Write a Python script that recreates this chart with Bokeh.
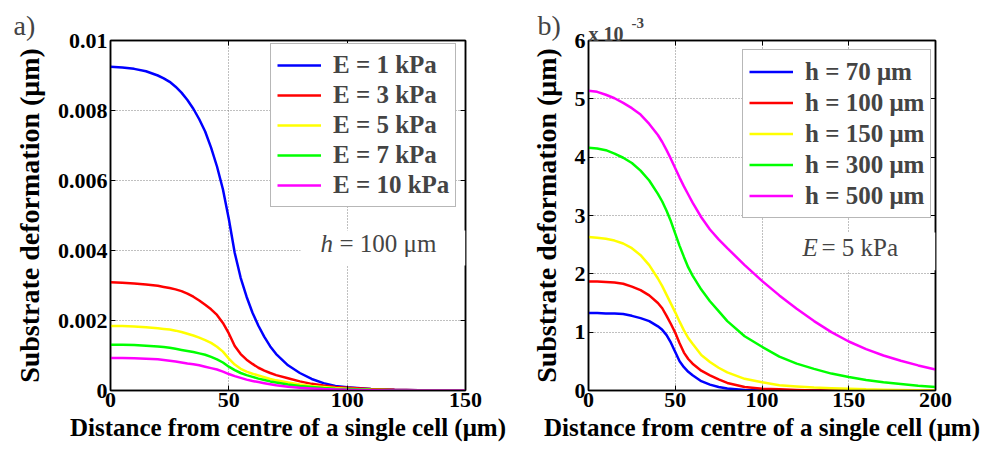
from bokeh.plotting import figure
from bokeh.models import (Legend, LegendItem, Label, BoxAnnotation, FixedTicker,
                          LinearAxis, CustomJSTickFormatter, Range1d, Title)
from bokeh.layouts import row
from bokeh.embed import file_html
from bokeh.resources import INLINE

# ---------------- data: panel a (h = 100 um) ----------------
xa = [0, 5, 10, 15, 20, 22.5, 25, 27.5, 30, 32.5, 35, 37.5, 40, 42.5, 45, 47.5, 50,
      52.5, 55, 57.5, 60, 62.5, 65, 67.5, 70, 75, 80, 85, 90, 95, 100, 110, 120, 130,
      140, 150]
e1 = [0.00925, 0.00923, 0.00919, 0.00912, 0.00900, 0.00892, 0.00882, 0.00868, 0.00851,
      0.00830, 0.00805, 0.00775, 0.00740, 0.00694, 0.00640, 0.00575, 0.00490, 0.00393,
      0.00322, 0.00268, 0.00222, 0.00185, 0.00153, 0.00126, 0.00104, 0.00072, 0.00050,
      0.00033, 0.00021, 0.00013, 0.00009, 0.00004, 0.00002, 0.00001, 0.0, 0.0]
e3 = [0.00309, 0.00308, 0.00306, 0.00303, 0.00299, 0.00296, 0.00293, 0.00289, 0.00284,
      0.00277, 0.00268, 0.00257, 0.00245, 0.00232, 0.00216, 0.00193, 0.00163, 0.00127,
      0.00104, 0.00088, 0.00076, 0.00065, 0.00057, 0.00050, 0.00044, 0.00035, 0.00026,
      0.00019, 0.00014, 0.00010, 0.00008, 0.00004, 0.00002, 0.00001, 0.0, 0.0]
e5 = [0.00184, 0.00184, 0.00183, 0.00181, 0.00178, 0.00176, 0.00174, 0.00171, 0.00167,
      0.00162, 0.00157, 0.00151, 0.00144, 0.00136, 0.00125, 0.00111, 0.00091, 0.00074,
      0.00062, 0.00054, 0.00048, 0.00043, 0.00038, 0.00033, 0.00029, 0.00023, 0.00017,
      0.00013, 0.00010, 0.00007, 0.00005, 0.00002, 0.00001, 0.0, 0.0, 0.0]
e7 = [0.00131, 0.00131, 0.00130, 0.00128, 0.00126, 0.00124, 0.00122, 0.00119, 0.00116,
      0.00113, 0.00110, 0.00106, 0.00102, 0.00096, 0.00089, 0.00080, 0.00068, 0.00058,
      0.00050, 0.00044, 0.00039, 0.00034, 0.00030, 0.00026, 0.00023, 0.00017, 0.00013,
      0.00010, 0.00007, 0.00005, 0.00004, 0.00002, 0.00001, 0.0, 0.0, 0.0]
e10 = [0.00093, 0.00093, 0.00092, 0.00091, 0.00089, 0.00087, 0.00085, 0.00083, 0.00080,
       0.00077, 0.00075, 0.00072, 0.00068, 0.00064, 0.00060, 0.00054, 0.00047, 0.00041,
       0.00036, 0.00031, 0.00027, 0.00024, 0.00021, 0.00018, 0.00015, 0.00011, 0.00008,
       0.00006, 0.00004, 0.00003, 0.00002, 0.00001, 0.0, 0.0, 0.0, 0.0]
labels_a = ["E = 1 kPa", "E = 3 kPa", "E = 5 kPa", "E = 7 kPa", "E = 10 kPa"]
xticks_a = [0, 50, 100, 150]
yticks_a = [0, 0.002, 0.004, 0.006, 0.008, 0.01]

# ---------------- data: panel b (E = 5 kPa), values in 1e-3 um ----------------
xb = [0, 5, 10, 15, 20, 25, 30, 35, 40, 42.5, 45, 47.5, 50, 52.5, 55, 57.5, 60, 65, 70,
      75, 80, 90, 100, 110, 120, 130, 140, 150, 160, 170, 180, 190, 200]
h70 = [1.33, 1.33, 1.32, 1.32, 1.31, 1.28, 1.24, 1.19, 1.10, 1.04, 0.95, 0.82, 0.66,
       0.50, 0.40, 0.32, 0.26, 0.16, 0.10, 0.06, 0.035, 0.01, 0.0, 0.0, 0.0, 0.0, 0.0,
       0.0, 0.0, 0.0, 0.0, 0.0, 0.0]
h100 = [1.87, 1.87, 1.86, 1.85, 1.83, 1.78, 1.72, 1.63, 1.50, 1.41, 1.28, 1.14, 0.99,
        0.81, 0.65, 0.54, 0.46, 0.34, 0.26, 0.19, 0.13, 0.06, 0.03, 0.02, 0.01, 0.0, 0.0,
        0.0, 0.0, 0.0, 0.0, 0.0, 0.0]
h150 = [2.63, 2.62, 2.60, 2.57, 2.52, 2.44, 2.32, 2.15, 1.92, 1.79, 1.64, 1.49, 1.34,
        1.18, 1.03, 0.90, 0.80, 0.61, 0.49, 0.39, 0.31, 0.20, 0.14, 0.09, 0.07, 0.05, 0.04,
        0.03, 0.02, 0.015, 0.01, 0.005, 0.0]
h300 = [4.16, 4.15, 4.12, 4.06, 3.99, 3.90, 3.77, 3.60, 3.37, 3.24, 3.08, 2.90, 2.69,
        2.48, 2.29, 2.11, 1.97, 1.73, 1.53, 1.36, 1.19, 0.93, 0.75, 0.58, 0.46, 0.37, 0.29,
        0.23, 0.18, 0.14, 0.11, 0.08, 0.06]
h500 = [5.14, 5.12, 5.07, 5.01, 4.93, 4.84, 4.73, 4.57, 4.38, 4.26, 4.12, 3.97, 3.81,
        3.65, 3.50, 3.36, 3.22, 2.97, 2.76, 2.59, 2.44, 2.15, 1.88, 1.63, 1.40, 1.19, 1.00,
        0.84, 0.71, 0.60, 0.51, 0.43, 0.36]
labels_b = ["h = 70 μm", "h = 100 μm", "h = 150 μm", "h = 300 μm", "h = 500 μm"]
xticks_b = [0, 50, 100, 150, 200]
yticks_b = [0, 1, 2, 3, 4, 5, 6]

colors = ["#0000FF", "#FF0000", "#FFFF00", "#00FF00", "#FF00FF"]
FONT = "Liberation Serif"
XLABEL = "Distance from centre of a single cell (μm)"
YLABEL = "Substrate deformation (μm)"


def style(p, xt, yt, yfmt=None):
    p.xaxis.ticker = FixedTicker(ticks=xt)
    p.yaxis.ticker = FixedTicker(ticks=yt)
    if yfmt is not None:
        p.yaxis.formatter = yfmt
    for ax in (p.xaxis[0], p.yaxis[0]):
        ax.major_tick_in = 5
        ax.major_tick_out = 0
        ax.minor_tick_in = 0
        ax.minor_tick_out = 0
        ax.axis_line_color = "black"
        ax.axis_line_width = 1.5
        ax.major_tick_line_color = "black"
        ax.major_label_text_font = FONT
        ax.major_label_text_font_style = "bold"
        ax.major_label_text_font_size = "22px"
        ax.major_label_text_color = "black"
        ax.axis_label_text_font = FONT
        ax.axis_label_text_font_style = "bold"
        ax.axis_label_text_color = "black"
    p.xaxis.axis_label = XLABEL
    p.yaxis.axis_label = YLABEL
    p.xaxis.axis_label_text_font_size = "25px"
    p.yaxis.axis_label_text_font_size = "28px"
    p.xaxis.major_label_standoff = 2
    p.xaxis.axis_label_standoff = 4
    p.yaxis.major_label_standoff = 3
    p.yaxis.axis_label_standoff = 10
    blank = CustomJSTickFormatter(code="return ''")
    top = LinearAxis(ticker=FixedTicker(ticks=xt), formatter=blank,
                     major_tick_in=5, major_tick_out=0, minor_tick_in=0, minor_tick_out=0,
                     axis_line_width=1.5, axis_line_color="black",
                     major_label_text_font_size="1px", major_label_standoff=0)
    right = LinearAxis(ticker=FixedTicker(ticks=yt), formatter=blank,
                       major_tick_in=5, major_tick_out=0, minor_tick_in=0, minor_tick_out=0,
                       axis_line_width=1.5, axis_line_color="black",
                       major_label_text_font_size="1px", major_label_standoff=0)
    p.add_layout(top, "above")
    p.add_layout(right, "right")
    p.grid.grid_line_color = "#808080"
    p.grid.grid_line_dash = "1 2"
    p.grid.grid_line_width = 1
    p.outline_line_color = "black"
    p.outline_line_width = 1.5
    p.background_fill_color = "white"
    p.border_fill_color = "white"


# ---------------- panel a ----------------
pa = figure(width=508, height=452, x_range=Range1d(0, 150), y_range=Range1d(0, 0.01),
            output_backend="svg", toolbar_location=None,
            min_border_left=110, min_border_right=43, min_border_top=40, min_border_bottom=62)
fmt_a = CustomJSTickFormatter(code="if (tick == 0) { return '0'; } return tick.toFixed(3).replace(/0+$/, '');")
style(pa, xticks_a, yticks_a, fmt_a)
items_a = []
for ys, c, lab in zip([e1, e3, e5, e7, e10], colors, labels_a):
    r = pa.line(xa, ys, line_color=c, line_width=2.5)
    items_a.append(LegendItem(label=lab, renderers=[r]))
leg_a = Legend(items=items_a, location=(160, 183))
pa.add_layout(BoxAnnotation(left=80.3, right=150, bottom=0.00357, top=0.00457,
                            fill_color="white", fill_alpha=1.0, line_color=None))
pa.add_layout(Label(x=88.7, y=0.0042, text="h", text_font=FONT, text_font_style="italic",
                    text_font_size="25px", text_baseline="middle", text_align="left"))
pa.add_layout(Label(x=88.7, y=0.0042, x_offset=19, text="= 100 μm", text_font=FONT,
                    text_font_size="25px", text_baseline="middle", text_align="left"))
pa.add_layout(Title(text="a)", align="left", offset=-97, standoff=0, text_font=FONT,
                    text_font_style="normal", text_font_size="28px"), "above")

# ---------------- panel b ----------------
pb = figure(width=477, height=452, x_range=Range1d(0, 200), y_range=Range1d(0, 6),
            output_backend="svg", toolbar_location=None,
            min_border_left=80, min_border_right=50, min_border_top=40, min_border_bottom=62)
style(pb, xticks_b, yticks_b)
items_b = []
for ys, c, lab in zip([h70, h100, h150, h300, h500], colors, labels_b):
    r = pb.line(xb, ys, line_color=c, line_width=2.5)
    items_b.append(LegendItem(label=lab, renderers=[r]))
leg_b = Legend(items=items_b, location=(154, 172))
pb.add_layout(BoxAnnotation(left=113.5, right=200, bottom=2.06, top=2.71,
                            fill_color="white", fill_alpha=1.0, line_color=None))
pb.add_layout(Label(x=123.3, y=2.45, text="E", text_font=FONT, text_font_style="italic",
                    text_font_size="25px", text_baseline="middle", text_align="left"))
pb.add_layout(Label(x=123.3, y=2.45, x_offset=19, text="= 5 kPa", text_font=FONT,
                    text_font_size="25px", text_baseline="middle", text_align="left"))
pb.add_layout(Title(text="b)", align="left", offset=-51, standoff=0, text_font=FONT,
                    text_font_style="normal", text_font_size="28px"), "above")
# axis multiplier, placed in the side panels so that it is not clipped to the frame
pb.add_layout(Label(x=0, y=6, x_offset=0, y_offset=7, text="x 10", text_font=FONT,
                    text_font_style="bold", text_font_size="20px",
                    text_baseline="alphabetic", text_align="left"), "right")
pb.add_layout(Label(x=0, y=6, x_offset=43, y_offset=18, text="-3", text_font=FONT,
                    text_font_style="bold", text_font_size="15px",
                    text_baseline="alphabetic", text_align="left"), "left")

for leg, rowh in ((leg_a, 30), (leg_b, 31)):
    leg.label_text_font = FONT
    leg.label_text_font_style = "bold"
    leg.label_text_font_size = "25px"
    leg.glyph_width = 44
    leg.glyph_height = rowh
    leg.label_height = rowh
    leg.label_standoff = 12
    leg.padding = 6
    leg.spacing = 0
    leg.margin = 0
    leg.border_line_color = "#707070"
    leg.border_line_width = 1
    leg.background_fill_color = "white"
    leg.background_fill_alpha = 1.0
pa.add_layout(leg_a, "center")
pb.add_layout(leg_b, "center")

layout = row(pa, pb, spacing=0)
open("out.html", "w").write(file_html(layout, INLINE))
